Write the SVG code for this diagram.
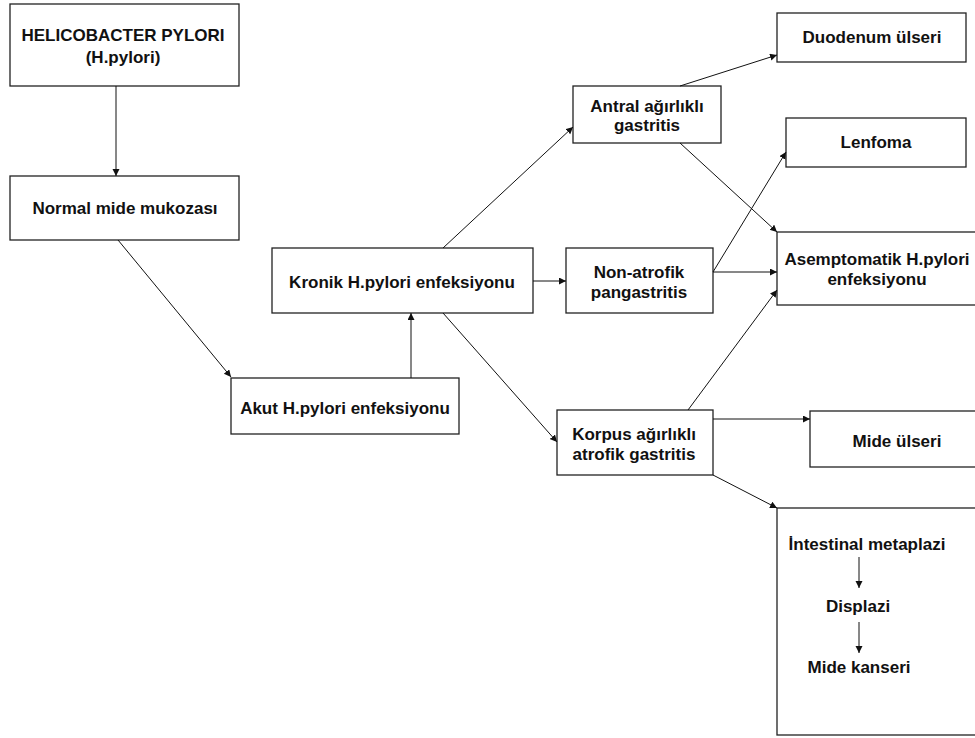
<svg xmlns="http://www.w3.org/2000/svg" width="975" height="738" viewBox="0 0 975 738">
<style>
.box{fill:#fff;stroke:#222;stroke-width:1.3}
.t{font-family:"Liberation Sans",Arial,sans-serif;font-weight:bold;font-size:17px;fill:#111;text-anchor:middle}
.c{fill:none;stroke:#111;stroke-width:1}
</style>
<defs>
<marker id="ah" markerUnits="userSpaceOnUse" markerWidth="8" markerHeight="8" refX="7" refY="3.5" orient="auto">
<path d="M0,0 L7,3.5 L0,7 z" fill="#111"/>
</marker>
</defs>
<rect width="975" height="738" fill="#fff"/>
<g id="helicobacter">
<rect class="box" x="10" y="4" width="229" height="82"/>
<text class="t" x="123" y="41">HELICOBACTER PYLORI</text>
<text class="t" x="123" y="63">(H.pylori)</text>
</g>
<g id="normal">
<rect class="box" x="10" y="176" width="229" height="64"/>
<text class="t" x="125" y="214">Normal mide mukozası</text>
</g>
<g id="akut">
<rect class="box" x="231" y="378" width="228" height="56"/>
<text class="t" x="345" y="414">Akut H.pylori enfeksiyonu</text>
</g>
<g id="kronik">
<rect class="box" x="272" y="248" width="261" height="65"/>
<text class="t" x="402" y="288">Kronik H.pylori enfeksiyonu</text>
</g>
<g id="antral">
<rect class="box" x="573" y="86" width="148" height="57"/>
<text class="t" x="647" y="112">Antral ağırlıklı</text>
<text class="t" x="647" y="131">gastritis</text>
</g>
<g id="nonatrofik">
<rect class="box" x="566" y="248" width="147" height="65"/>
<text class="t" x="639" y="278">Non-atrofik</text>
<text class="t" x="639" y="298">pangastritis</text>
</g>
<g id="korpus">
<rect class="box" x="557" y="410" width="156" height="65"/>
<text class="t" x="634" y="440">Korpus ağırlıklı</text>
<text class="t" x="634" y="460">atrofik gastritis</text>
</g>
<g id="duodenum">
<rect class="box" x="777" y="13" width="189" height="49"/>
<text class="t" x="872" y="43">Duodenum ülseri</text>
</g>
<g id="lenfoma">
<rect class="box" x="786" y="118" width="180" height="49"/>
<text class="t" x="876" y="148">Lenfoma</text>
</g>
<g id="asemptomatik">
<rect class="box" x="777" y="232" width="210" height="73"/>
<text class="t" x="877" y="265">Asemptomatik H.pylori</text>
<text class="t" x="877" y="285">enfeksiyonu</text>
</g>
<g id="mideulseri">
<rect class="box" x="810" y="411" width="180" height="56"/>
<text class="t" x="897" y="447">Mide ülseri</text>
</g>
<g id="intestinal">
<rect class="box" x="777" y="508" width="210" height="227"/>
<text class="t" x="867" y="550">İntestinal metaplazi</text>
<text class="t" x="858" y="612">Displazi</text>
<text class="t" x="859" y="673">Mide kanseri</text>
</g>
<g id="connectors">
<line class="c" x1="116" y1="86" x2="116" y2="176" marker-end="url(#ah)"/>
<line class="c" x1="118" y1="240" x2="231" y2="377" marker-end="url(#ah)"/>
<line class="c" x1="411" y1="378" x2="411" y2="313" marker-end="url(#ah)"/>
<line class="c" x1="443" y1="248" x2="573" y2="127" marker-end="url(#ah)"/>
<line class="c" x1="533" y1="281" x2="566" y2="281" marker-end="url(#ah)"/>
<line class="c" x1="443" y1="313" x2="557" y2="442" marker-end="url(#ah)"/>
<line class="c" x1="680" y1="86" x2="777" y2="55" marker-end="url(#ah)"/>
<line class="c" x1="680" y1="143" x2="777" y2="232" marker-end="url(#ah)"/>
<line class="c" x1="713" y1="272" x2="786" y2="152" marker-end="url(#ah)"/>
<line class="c" x1="713" y1="272" x2="777" y2="272" marker-end="url(#ah)"/>
<line class="c" x1="688" y1="410" x2="777" y2="290" marker-end="url(#ah)"/>
<line class="c" x1="713" y1="419" x2="810" y2="419" marker-end="url(#ah)"/>
<line class="c" x1="713" y1="475" x2="777" y2="508" marker-end="url(#ah)"/>
<line class="c" x1="859" y1="557" x2="859" y2="588" marker-end="url(#ah)"/>
<line class="c" x1="859" y1="622" x2="859" y2="653" marker-end="url(#ah)"/>
</g>
</svg>
